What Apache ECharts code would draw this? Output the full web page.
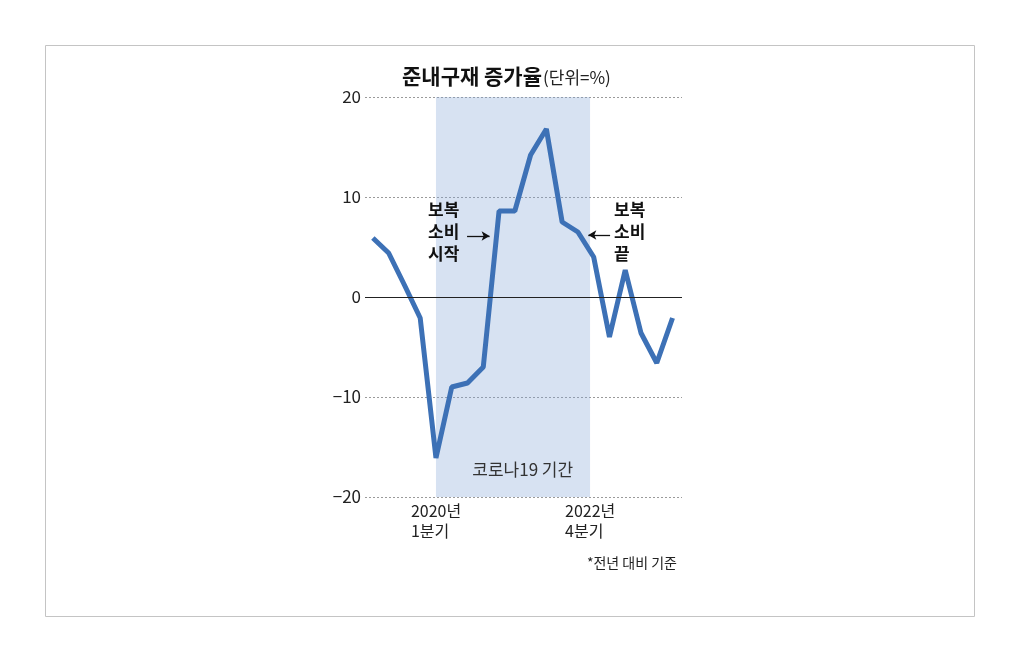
<!DOCTYPE html>
<html>
<head>
<meta charset="utf-8">
<script src="https://cdn.jsdelivr.net/npm/echarts@6/dist/echarts.min.js"></script>
<style>
  html, body { margin: 0; padding: 0; background: #fff; }
  #chart { width: 1020px; height: 663px; }
</style>
</head>
<body>
<div id="chart"></div>
<script>
// 준내구재 증가율 (전년 대비, %) - 분기별, 2019년부터
var periods = [0, 1, 2, 3, 4, 5, 6, 7, 8, 9, 10, 11, 12, 13, 14, 15, 16, 17, 18, 19];
var growth = [5.9, 4.4, 1.2, -2.1, -16.1, -9.0, -8.6, -7.0, 8.6, 8.6, 14.2, 16.8, 7.5, 6.5, 4.0, -4.0, 2.7, -3.6, -6.6, -2.1];

// 코로나19 기간 (음영)
var covidStart = 4;
var covidEnd = 13.77;
var tickValues = [covidStart, covidEnd];
var tickLabels = ['2020년\n1분기', '2022년\n4분기'];

var font = '"Noto Sans CJK KR", "Noto Sans", sans-serif';

var chart = echarts.init(document.getElementById('chart'));

var option = {
    backgroundColor: '#fff',
    animation: false,
    textStyle: { fontFamily: font },
    title: [
        {
            text: '{b|준내구재 증가율}{n|(단위=%)}',
            left: 397,
            top: 61,
            textStyle: {
                rich: {
                    b: { fontFamily: font, fontSize: 21, fontWeight: 'bold', color: '#111' },
                    n: { fontFamily: font, fontSize: 17, fontWeight: 'normal', color: '#222', padding: [2, 0, 0, 1] }
                }
            }
        },
        {
            text: '*전년 대비 기준',
            right: 338,
            top: 551,
            textStyle: { fontFamily: font, fontSize: 14, fontWeight: 'normal', color: '#222' }
        }
    ],
    graphic: [{
        type: 'rect',
        shape: { x: 45.5, y: 45.5, width: 929, height: 571 },
        style: { fill: 'none', stroke: '#c4c4c4', lineWidth: 1 },
        silent: true
    }],
    grid: { left: 365, right: 338, top: 97, bottom: 166 },
    xAxis: {
        type: 'value',
        min: -0.5,
        max: 19.6,
        axisLine: { show: false },
        axisTick: { show: false },
        splitLine: { show: false },
        axisLabel: {
            customValues: tickValues,
            margin: 4,
            formatter: function (v) {
                var i = tickValues.indexOf(v);
                if (i < 0) return '';
                var lines = tickLabels[i].split('\n');
                return '{t|' + lines[0] + '}\n{t|' + lines[1] + '}';
            },
            rich: {
                t: { fontFamily: font, fontSize: 16, color: '#222', width: 50, align: 'left', lineHeight: 20 }
            }
        }
    },
    yAxis: {
        type: 'value',
        min: -20,
        max: 20,
        interval: 10,
        axisLine: { show: false },
        axisTick: { show: false },
        axisLabel: {
            margin: 4,
            fontSize: 17,
            color: '#222',
            formatter: function (v) { return v < 0 ? '\u2212' + Math.abs(v) : String(v); }
        },
        splitLine: { lineStyle: { color: '#9a9a9a', type: [2, 2], width: 1 } }
    },
    series: [{
        type: 'line',
        data: periods.map(function (p, i) { return [p, growth[i]]; }),
        symbol: 'none',
        silent: true,
        lineStyle: { color: '#3d71b6', width: 5 },
        markArea: {
            silent: true,
            itemStyle: { color: 'rgba(130,165,215,0.32)' },
            data: [[{ xAxis: covidStart }, { xAxis: covidEnd }]]
        },
        markLine: {
            silent: true,
            animation: false,
            label: { show: false },
            symbol: ['none', 'arrow'],
            symbolSize: [7, 8],
            data: [
                [{ coord: [-0.5, 0], symbol: 'none', lineStyle: { color: '#222', width: 1, type: 'solid' } },
                 { coord: [19.6, 0], symbol: 'none' }],
                [{ coord: [5.97, 6.1], symbol: 'none', lineStyle: { color: '#111', width: 1.3, type: 'solid' } },
                 { coord: [7.4, 6.1], symbol: 'arrow' }],
                [{ coord: [15.04, 6.2], symbol: 'none', lineStyle: { color: '#111', width: 1.3, type: 'solid' } },
                 { coord: [13.66, 6.2], symbol: 'arrow' }]
            ]
        },
        markPoint: {
            silent: true,
            symbol: 'circle',
            symbolSize: 0,
            data: [
                {
                    coord: [3.5, 6.5],
                    label: { show: true, formatter: '보복\n소비\n시작', align: 'left', verticalAlign: 'middle',
                        fontFamily: font, fontSize: 17, fontWeight: 'bold', color: '#111', lineHeight: 22 }
                },
                {
                    coord: [15.29, 6.5],
                    label: { show: true, formatter: '보복\n소비\n끝', align: 'left', verticalAlign: 'middle',
                        fontFamily: font, fontSize: 17, fontWeight: 'bold', color: '#111', lineHeight: 22 }
                },
                {
                    coord: [9.5, -17.3],
                    label: { show: true, formatter: '코로나19 기간', align: 'center', verticalAlign: 'middle',
                        fontFamily: font, fontSize: 17, color: '#333' }
                }
            ]
        }
    }]
};

chart.setOption(option);
</script>
</body>
</html>
